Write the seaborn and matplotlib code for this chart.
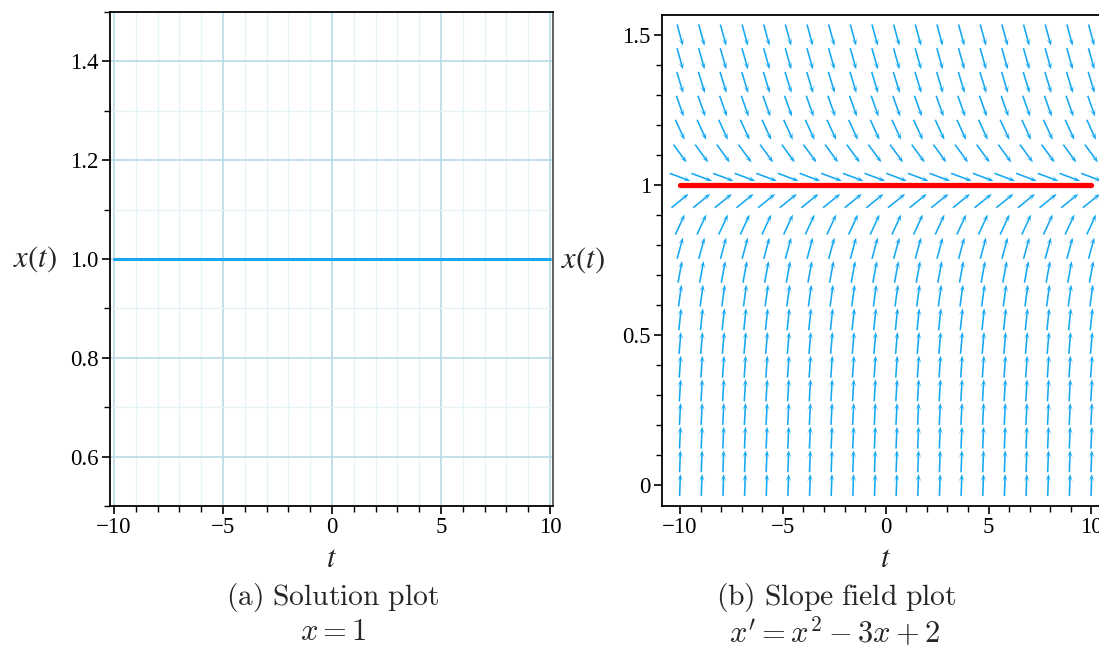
import numpy as np
import matplotlib
matplotlib.use("Agg")
import matplotlib.pyplot as plt
import seaborn as sns
from matplotlib.ticker import MultipleLocator, FixedLocator, FixedFormatter

# ---- data ----
sol_t = [-10, 10]          # solution plot: x(t) = 1
sol_x = [1.0, 1.0]
eq_t = [-10, 10]           # equilibrium line in slope field
eq_x = [1.0, 1.0]
field_t = np.linspace(-10, 10, 20)   # slope-field grid columns
field_x = np.linspace(0, 1.5, 20)    # slope-field grid rows
left_yticks = [0.6, 0.8, 1.0, 1.2, 1.4]
left_ylabels = ["0.6", "0.8", "1.0", "1.2", "1.4"]
right_yticks = [0, 0.5, 1, 1.5]
right_ylabels = ["0", "0.5", "1", "1.5"]
xticks = [-10, -5, 0, 5, 10]
xlabels = ["\u221210", "\u22125", "0", "5", "10"]


def rhs(x):
    return x**2 - 3 * x + 2


sns.set_theme(style="white")
plt.rcParams["font.family"] = ["Liberation Serif", "DejaVu Serif"]
plt.rcParams["mathtext.fontset"] = "cm"

W, H = 1099, 648
fig = plt.figure(figsize=(W / 100, H / 100), dpi=100)

BLUE = "#17a8f2"
TICKFS = 16.5

# ---------------- left: solution plot ----------------
axL = fig.add_axes([110 / W, 1 - 506 / H, (553 - 110) / W, (506 - 12) / H])
axL.set_xlim(-10.18, 10.14)
axL.set_ylim(0.5, 1.5)
axL.xaxis.set_major_locator(FixedLocator(xticks))
axL.xaxis.set_major_formatter(FixedFormatter(xlabels))
axL.xaxis.set_minor_locator(MultipleLocator(1))
axL.yaxis.set_major_locator(FixedLocator(left_yticks))
axL.yaxis.set_major_formatter(FixedFormatter(left_ylabels))
axL.yaxis.set_minor_locator(MultipleLocator(0.1))
axL.grid(True, which="major", color="#bcdde8", lw=1.3)
axL.grid(True, which="minor", color="#e6f3f8", lw=1.0)
axL.set_axisbelow(True)
sns.lineplot(x=sol_t, y=sol_x, ax=axL, color=BLUE, lw=2.2)

# ---------------- right: slope field ----------------
x0 = 662
px_per_t = (885.7 - 680) / 10
xr_right = 10.875
right_px = 885.7 + xr_right * px_per_t
axR = fig.add_axes([x0 / W, 1 - 506 / H, (right_px - x0) / W, (506 - 15) / H])
axR.set_xlim(-10.875, xr_right)
axR.set_ylim(-0.07, 1.567)
axR.xaxis.set_major_locator(FixedLocator(xticks))
axR.xaxis.set_major_formatter(FixedFormatter(xlabels))
axR.xaxis.set_minor_locator(MultipleLocator(1))
axR.yaxis.set_major_locator(FixedLocator(right_yticks))
axR.yaxis.set_major_formatter(FixedFormatter(right_ylabels))
axR.yaxis.set_minor_locator(MultipleLocator(0.1))
axR.grid(False)

# arrows of constant screen length, direction (1, f(x))
T, X = np.meshgrid(field_t, field_x)
F = rhs(X)
p0 = axR.transData.transform((0, 0))
p1 = axR.transData.transform((1, 1))
sx = (p1[0] - p0[0])
sy = (p1[1] - p0[1])
dx_px = sx * np.ones_like(F)
dy_px = sy * F
norm = np.hypot(dx_px, dy_px)
L = 22.0
U = L * dx_px / norm / sx
V = L * dy_px / norm / sy
axR.quiver(T, X, U, V, angles="xy", scale_units="xy", scale=1, pivot="middle",
           color=BLUE, width=0.0036, headwidth=3.6, headlength=4.8,
           headaxislength=2.6, zorder=2)
sns.lineplot(x=eq_t, y=eq_x, ax=axR, color="#ff0000", lw=3.8, zorder=3)

for ax in (axL, axR):
    ax.tick_params(axis="both", which="major", direction="out", length=6,
                   width=1.2, labelsize=TICKFS, colors="black", pad=2,
                   bottom=True, left=True)
    ax.tick_params(axis="both", which="minor", direction="out", length=4,
                   width=1.0, colors="black", bottom=True, left=True)
    for s in ax.spines.values():
        s.set_color("black")
        s.set_linewidth(1.3)
    ax.set_xlabel("$t$", fontsize=22, math_fontfamily="stix")
    ax.set_ylabel("$x(t)$", fontsize=22, rotation=0, ha="center", va="center",
                  math_fontfamily="stix")

axL.spines["right"].set_color("#555555")
axL.yaxis.set_label_coords((35 - 110) / (553 - 110), 0.5)
axL.xaxis.set_label_coords(0.5, -0.078)
axR.yaxis.set_label_coords((583 - x0) / (right_px - x0), 0.5)
axR.xaxis.set_label_coords((886 - x0) / (right_px - x0), -0.079)

# captions
fig.text(333 / W, 1 - 598 / H, r"$\mathrm{(a)\ Solution\ plot}$", ha="center", va="center", fontsize=21.3)
fig.text(333 / W, 1 - 633 / H, r"$x = 1$", ha="center", va="center", fontsize=22)
fig.text(836 / W, 1 - 598 / H, r"$\mathrm{(b)\ Slope\ field\ plot}$", ha="center", va="center", fontsize=21.3)
fig.text(835 / W, 1 - 633 / H, r"$x' = x^2 - 3x + 2$", ha="center", va="center", fontsize=22)

fig.savefig("out.png", dpi=100)
